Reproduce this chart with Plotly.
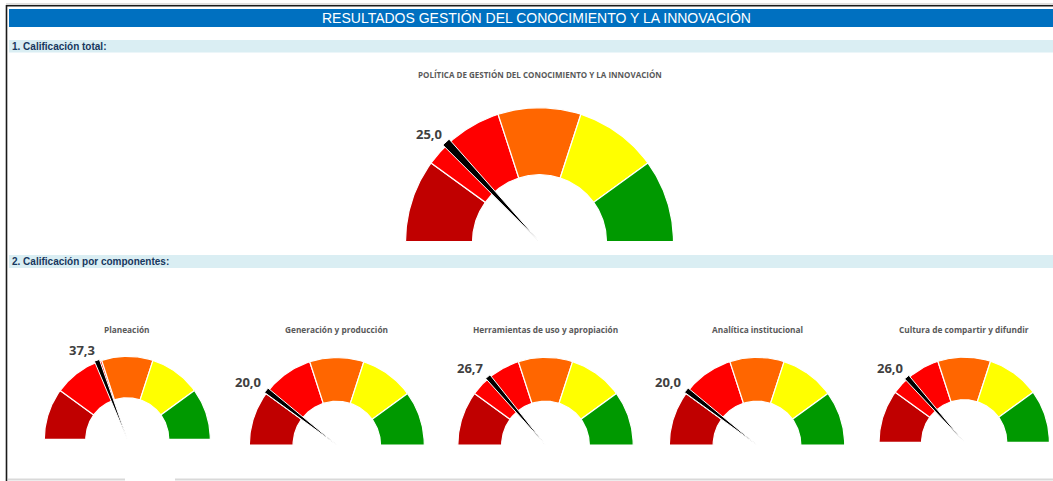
import numpy as np
import plotly.graph_objects as go

# ---------------------------------------------------------------- data
GAUGE_TITLES = [
    "POLÍTICA DE GESTIÓN DEL CONOCIMIENTO Y LA INNOVACIÓN",
    "Planeación",
    "Generación y producción",
    "Herramientas de uso y apropiación",
    "Analítica institucional",
    "Cultura de compartir y difundir",
]
SCORES = [25.0, 37.3, 20.0, 26.7, 20.0, 26.0]

BAND_LIMITS = [0, 20, 40, 60, 80, 100]
BAND_COLORS = ["#C00000", "#FF0000", "#FF6600", "#FFFF00", "#009900"]
NEEDLE_WIDTH = 2.0  # needle thickness, in score units

HEADER_TITLE = "RESULTADOS GESTIÓN DEL CONOCIMIENTO Y LA INNOVACIÓN"
SECTION_TITLES = ["1. Calificación total:", "2. Calificación por componentes:"]

# ---------------------------------------------------------------- layout (pixels)
W, H = 1053, 481
GAUGE_CENTERS = [(539.5, 241.7), (127.3, 439.3), (336.8, 445.0),
                 (545.5, 445.0), (757.0, 445.0), (964.2, 442.3)]
GAUGE_RADII = [134.0, 83.0, 87.5, 87.7, 87.7, 85.2]
TITLE_Y = [74, 329, 329, 329, 329, 329]
HOLE = 0.5
SECTION_BARS_Y = [(40, 52.5), (255, 268)]
LABEL_GAP = 8  # radial gap between needle tip and value label

fig = go.Figure()


def angle(score):
    return np.pi * (1.0 - score / 100.0)


def arc(cx, cy, r, a0, a1, n=48):
    t = np.linspace(angle(a0), angle(a1), n)
    return cx + r * np.cos(t), cy - r * np.sin(t)


for title, score, (cx, cy), R, ty in zip(GAUGE_TITLES, SCORES, GAUGE_CENTERS,
                                         GAUGE_RADII, TITLE_Y):
    # coloured bands of the dial
    for lo, hi, col in zip(BAND_LIMITS[:-1], BAND_LIMITS[1:], BAND_COLORS):
        ox, oy = arc(cx, cy, R, lo, hi)
        ix, iy = arc(cx, cy, R * HOLE, hi, lo)
        fig.add_trace(go.Scatter(
            x=np.concatenate([ox, ix, ox[:1]]),
            y=np.concatenate([oy, iy, oy[:1]]),
            mode="lines", fill="toself", fillcolor=col,
            line=dict(color="white", width=1.2),
            hoverinfo="skip", showlegend=False))

    # needle: thin wedge from the centre to the rim
    nx, ny = arc(cx, cy, R * 1.02, score, score + NEEDLE_WIDTH, n=6)
    fig.add_trace(go.Scatter(
        x=np.concatenate([[cx], nx, [cx]]),
        y=np.concatenate([[cy], ny, [cy]]),
        mode="lines", fill="toself", fillcolor="black",
        line=dict(color="white", width=1),
        hoverinfo="skip", showlegend=False))

    # value label just outside the needle tip
    tip = angle(score + NEEDLE_WIDTH / 2)
    tx = cx + R * np.cos(tip)
    tyy = cy - R * np.sin(tip)
    fig.add_annotation(
        x=tx + LABEL_GAP * np.cos(tip) - 13,
        y=tyy - LABEL_GAP * np.sin(tip) - 4,
        xref="x", yref="y",
        text=f"<b>{score:.1f}</b>".replace(".", ","),
        showarrow=False, xanchor="center", yanchor="middle",
        font=dict(family="Open Sans, Roboto, sans-serif", size=13, color="#404040"))

    # gauge title
    fig.add_annotation(
        x=cx, y=ty, xref="x", yref="y", text=f"<b>{title}</b>",
        showarrow=False, xanchor="center", yanchor="middle",
        font=dict(family="Open Sans, Roboto, sans-serif",
                  size=8 if len(title) > 40 else 8.3, color="#595959"))

# ---------------------------------------------------------------- sheet decoration
shapes = [
    # outer frame
    dict(type="line", x0=6, x1=W, y0=4, y1=4, line=dict(color="#BFBFBF", width=1)),
    dict(type="line", x0=6, x1=W, y0=5.8, y1=5.8, line=dict(color="#1A1A1A", width=1.6)),
    dict(type="line", x0=6.5, x1=6.5, y0=5, y1=H, line=dict(color="#1A1A1A", width=1.6)),
    # header bar
    dict(type="rect", x0=9, x1=W, y0=9, y1=27, fillcolor="#0070C0", line_width=0),
    # bottom rule
    dict(type="line", x0=8, x1=125, y0=479.5, y1=479.5, line=dict(color="#D9D9D9", width=2)),
    dict(type="line", x0=175, x1=W, y0=479.5, y1=479.5, line=dict(color="#D9D9D9", width=2)),
]
for (y0, y1) in SECTION_BARS_Y:
    shapes.append(dict(type="rect", x0=9, x1=W, y0=y0, y1=y1,
                       fillcolor="#DAEEF3", line_width=0))
for s in shapes:
    s.update(xref="x", yref="y", layer="below")

fig.add_annotation(
    x=536.5, y=18, xref="x", yref="y", text=HEADER_TITLE, showarrow=False,
    xanchor="center", yanchor="middle",
    font=dict(family="Liberation Sans Narrow, Arial Narrow, Liberation Sans, Arial",
              size=14, color="white"))
for text, (y0, y1) in zip(SECTION_TITLES, SECTION_BARS_Y):
    fig.add_annotation(
        x=10, y=(y0 + y1) / 2, xref="x", yref="y", text=f"<b>{text}</b>",
        showarrow=False, xanchor="left", yanchor="middle",
        font=dict(family="Liberation Sans, Arial", size=10, color="#17375E"))

fig.update_layout(
    width=W, height=H, margin=dict(l=0, r=0, t=0, b=0),
    paper_bgcolor="white", plot_bgcolor="white",
    shapes=shapes,
    xaxis=dict(range=[0, W], visible=False, fixedrange=True),
    yaxis=dict(range=[H, 0], visible=False, fixedrange=True),
    showlegend=False,
)

fig.write_html("out.html")
